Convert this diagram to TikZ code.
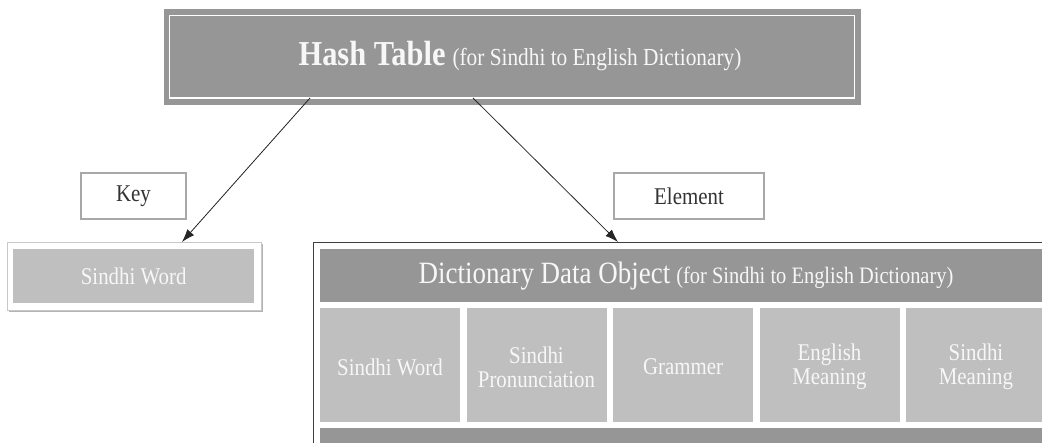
\documentclass[tikz,border=0pt]{standalone}
\usepackage{fontspec}
\setmainfont{Liberation Serif}
\usetikzlibrary{arrows.meta}
\definecolor{dg}{HTML}{969696}
\definecolor{lg}{HTML}{BFBFBF}
\definecolor{bd}{HTML}{A8A8A8}
\definecolor{tx}{HTML}{F7F7F7}
\definecolor{lbtxt}{HTML}{333333}
\definecolor{shd}{HTML}{B4B4B4}
\definecolor{lbord}{HTML}{C8C8C8}
\newcommand{\cz}[1]{\scalebox{0.87}[1]{#1}}
\newcommand{\fsz}[1]{\fontsize{#1}{#1}\selectfont}
\begin{document}
\begin{tikzpicture}[x=1pt,y=-1pt,
  band/.style={fill=dg, draw=none, inner sep=0pt, outer sep=0pt, anchor=north west},
  cellbox/.style={fill=lg, draw=none, inner sep=0pt, outer sep=0pt, anchor=north west,
    minimum width=140pt, minimum height=114pt},
  celltext/.style={text=tx, align=center, inner sep=0pt, font=\fsz{24}},
  labelbox/.style={draw=bd, line width=2pt, fill=white, inner sep=0pt, anchor=north west,
    minimum height=46pt, text=lbtxt, font=\fsz{24}},
  arr/.style={-{Latex[length=13pt,width=9pt]}, draw=black!85, line width=0.8pt}]
\useasboundingbox (0,0) rectangle (1042,443);
\clip (0,0) rectangle (1042,443);
\fill[white] (0,0) rectangle (1042,443);

% top hash table box
\node[band, minimum width=697pt, minimum height=96pt] (ht) at (164,9) {};
\draw[white, line width=1.6pt] (169.5,15.5) rectangle (854.5,98);
\node[anchor=base, text=tx, inner sep=0pt] (httext) at (520,66)
  {\cz{\fsz{35}\bfseries Hash Table}\hspace{7pt}\cz{\fsz{24.5}(for Sindhi to English Dictionary)}};

% key / element labels
\node[labelbox, minimum width=105pt] (key) at (80,172) {};
\node[text=lbtxt, font=\fsz{24}, inner sep=0pt] at (key.center) {\cz{Key}};
\node[labelbox, minimum width=150pt] (elem) at (613,172) {};
\node[text=lbtxt, font=\fsz{24}, inner sep=0pt] at (elem.center) {\cz{Element}};

% left Sindhi Word box
\fill[shd] (9,244) rectangle (263,312);
\node[draw=lbord, line width=1pt, fill=white, inner sep=0pt, anchor=north west,
  minimum width=254pt, minimum height=68pt] (kw) at (7,242) {};
\node[fill=lg, inner sep=0pt, anchor=north west, minimum width=241pt, minimum height=54pt]
  (kwin) at (13,249) {};
\node[celltext] at (kwin.center) {\cz{Sindhi Word}};

% dictionary data object
\node[draw=black!75, line width=1.3pt, fill=white, inner sep=0pt, anchor=north west,
  minimum width=760pt, minimum height=230pt] (dob) at (313,242) {};
\node[band, minimum width=740pt, minimum height=53pt] (hdr) at (320,249) {};
\node[anchor=base, text=tx, inner sep=0pt] (hdrtext) at (686,284)
  {\cz{\fsz{31}Dictionary Data Object}\hspace{6pt}\cz{\fsz{23.5}(for Sindhi to English Dictionary)}};

\node[cellbox] (c1) at (320,308) {};
\node[cellbox] (c2) at (466.5,308) {};
\node[cellbox] (c3) at (613,308) {};
\node[cellbox] (c4) at (759.5,308) {};
\node[cellbox] (c5) at (906,308) {};
\node[celltext] at ([yshift=-2pt]c1.center) {\cz{Sindhi Word}};
\node[celltext] at ([yshift=-2pt]c2.center) {\cz{Sindhi}\\\cz{Pronunciation}};
\node[celltext] at ([yshift=-2pt]c3.center) {\cz{Grammer}};
\node[celltext] at ([yshift=-2pt]c4.center) {\cz{English}\\\cz{Meaning}};
\node[celltext] at ([yshift=-2pt]c5.center) {\cz{Sindhi}\\\cz{Meaning}};
\node[band, minimum width=740pt, minimum height=30pt] (foot) at (320,428) {};

% arrows
\coordinate (ka) at (310,98);
\coordinate (kb) at (182,242);
\coordinate (ea) at (473,98);
\coordinate (eb) at (618,242);
\draw[arr] (ka) -- (kb);
\draw[arr] (ea) -- (eb);
\end{tikzpicture}
\end{document}
